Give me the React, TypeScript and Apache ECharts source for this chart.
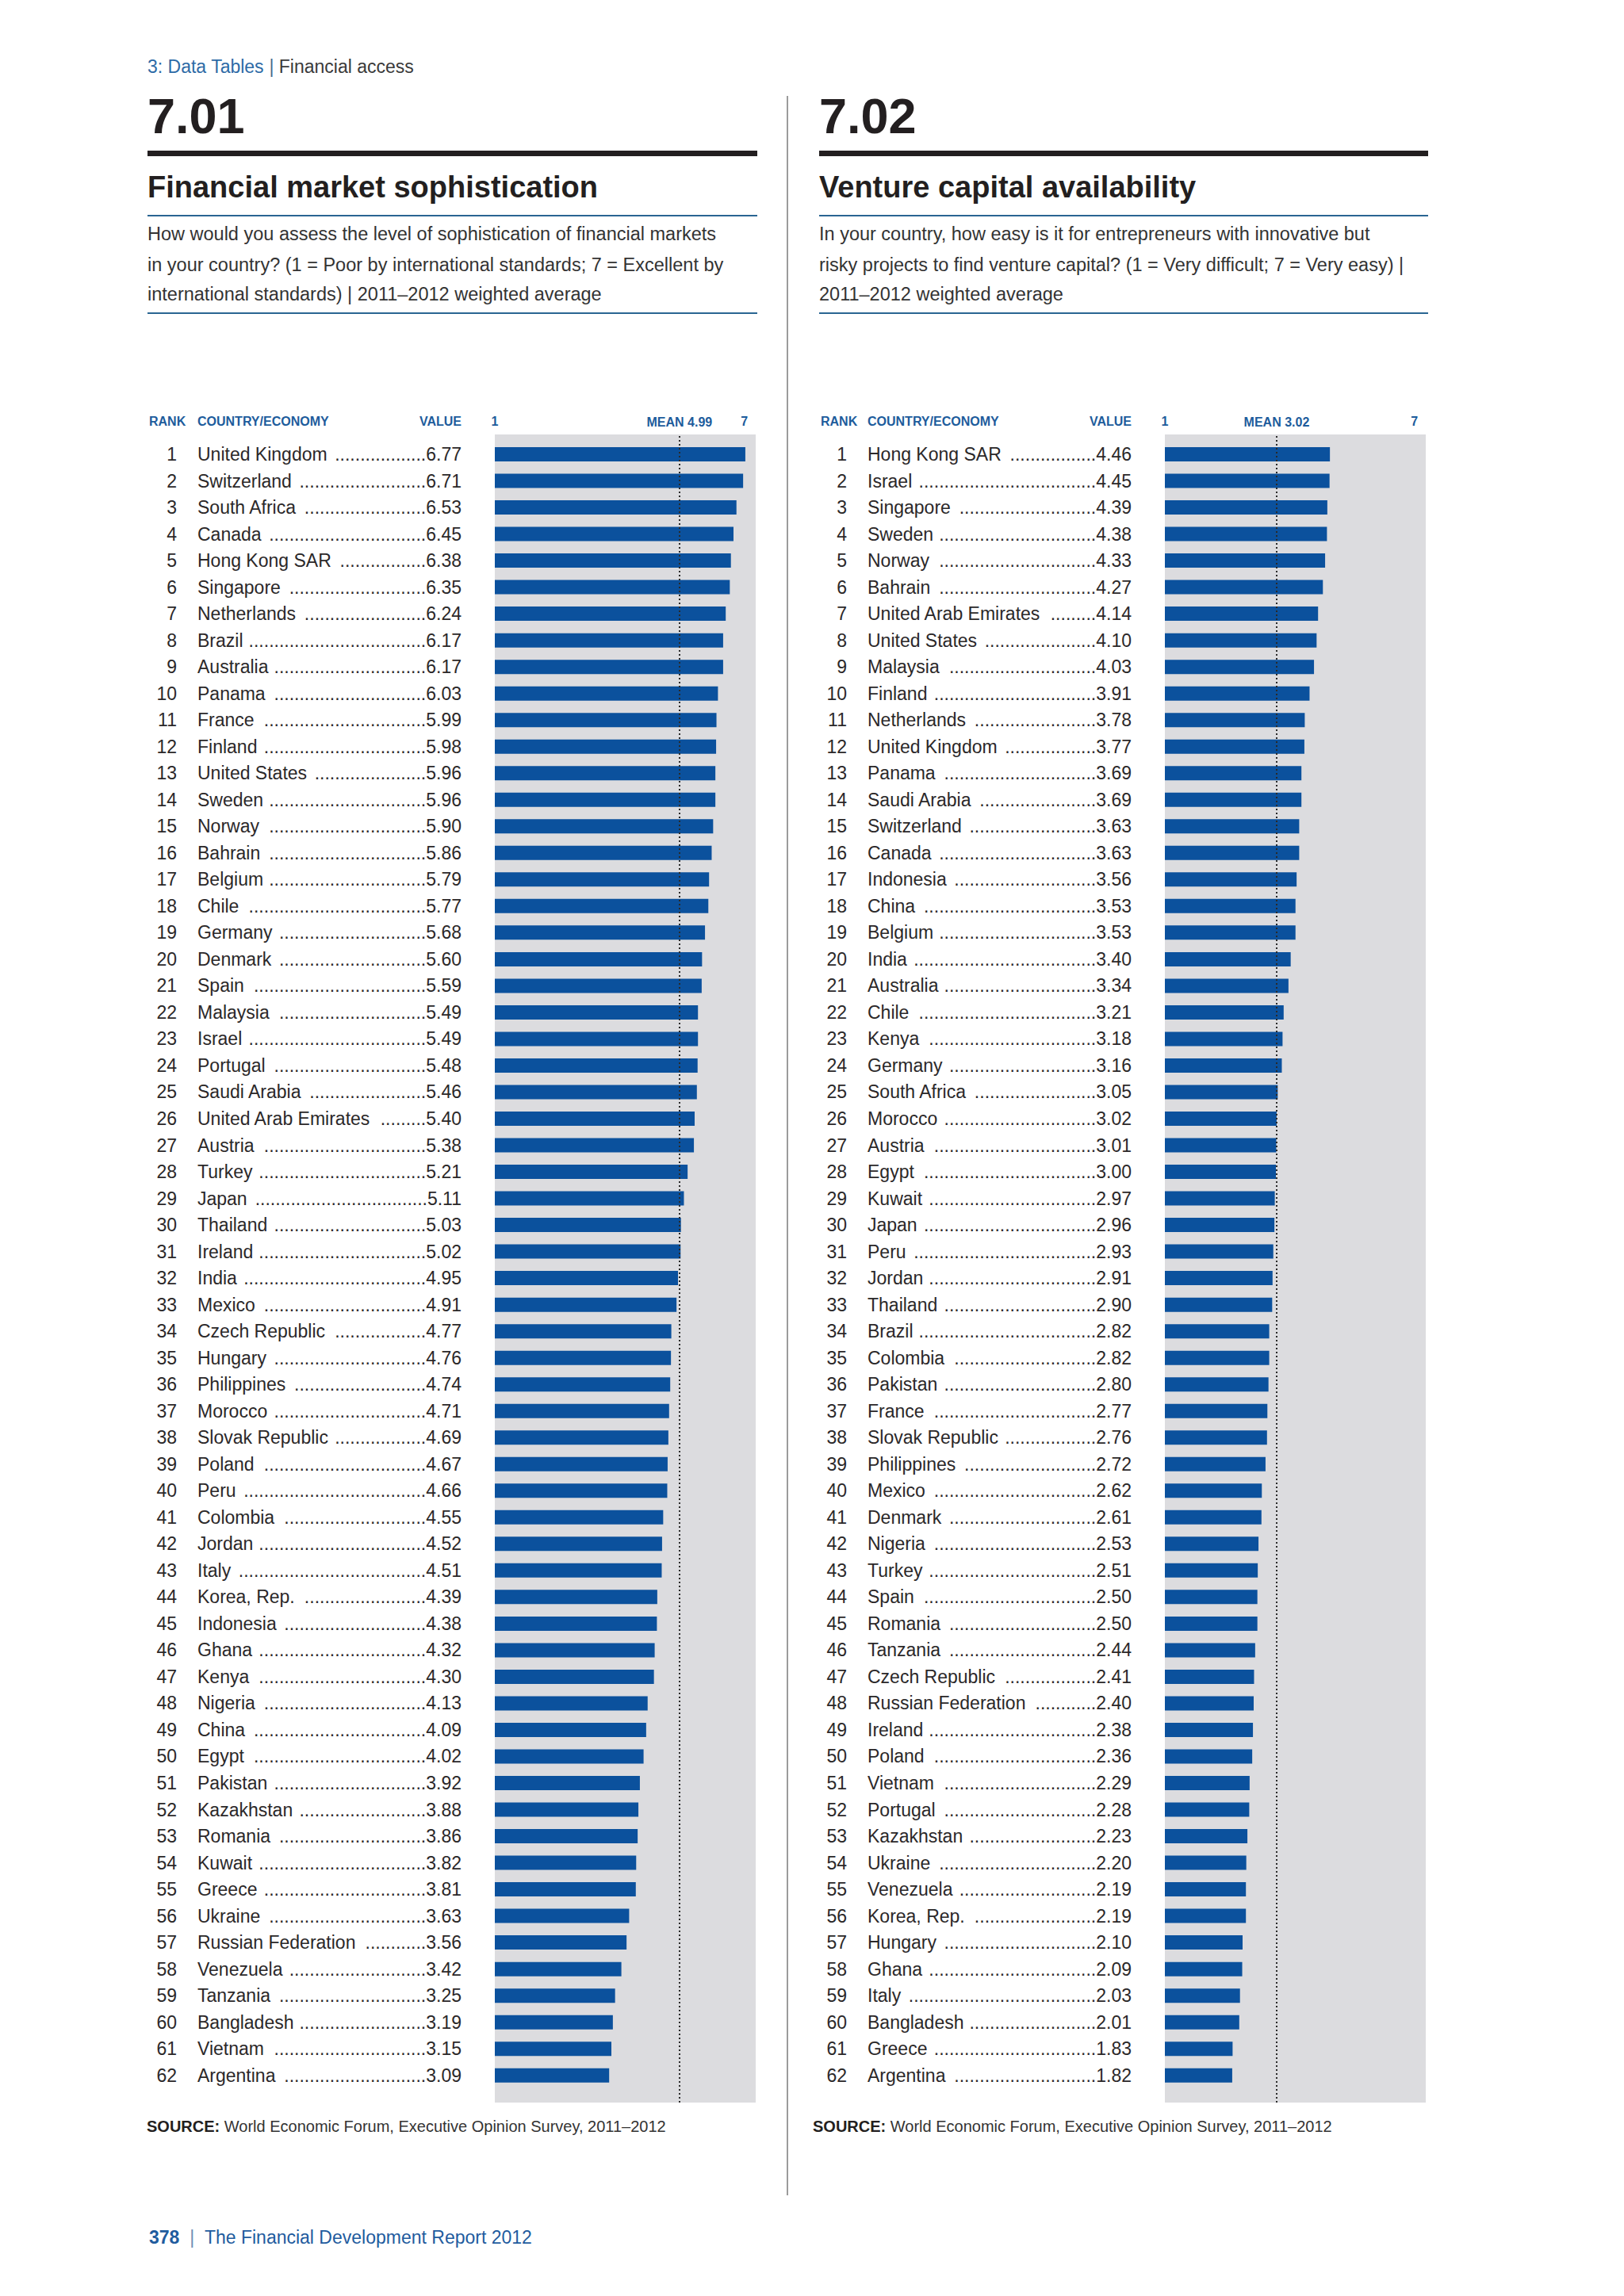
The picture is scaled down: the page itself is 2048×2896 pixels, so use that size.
import React, { useEffect, useRef } from "react";
import * as echarts from "echarts";

const FINANCIAL_COUNTRIES = [
  "United Kingdom", "Switzerland", "South Africa", "Canada", "Hong Kong SAR", "Singapore",
  "Netherlands", "Brazil", "Australia", "Panama", "France", "Finland", "United States",
  "Sweden", "Norway", "Bahrain", "Belgium", "Chile", "Germany", "Denmark", "Spain",
  "Malaysia", "Israel", "Portugal", "Saudi Arabia", "United Arab Emirates", "Austria",
  "Turkey", "Japan", "Thailand", "Ireland", "India", "Mexico", "Czech Republic", "Hungary",
  "Philippines", "Morocco", "Slovak Republic", "Poland", "Peru", "Colombia", "Jordan",
  "Italy", "Korea, Rep.", "Indonesia", "Ghana", "Kenya", "Nigeria", "China", "Egypt",
  "Pakistan", "Kazakhstan", "Romania", "Kuwait", "Greece", "Ukraine", "Russian Federation",
  "Venezuela", "Tanzania", "Bangladesh", "Vietnam", "Argentina",
];
const FINANCIAL_VALUES = [
  6.77, 6.71, 6.53, 6.45, 6.38, 6.35, 6.24, 6.17, 6.17, 6.03, 5.99, 5.98, 5.96, 5.96, 5.9,
  5.86, 5.79, 5.77, 5.68, 5.6, 5.59, 5.49, 5.49, 5.48, 5.46, 5.4, 5.38, 5.21, 5.11, 5.03,
  5.02, 4.95, 4.91, 4.77, 4.76, 4.74, 4.71, 4.69, 4.67, 4.66, 4.55, 4.52, 4.51, 4.39, 4.38,
  4.32, 4.3, 4.13, 4.09, 4.02, 3.92, 3.88, 3.86, 3.82, 3.81, 3.63, 3.56, 3.42, 3.25, 3.19,
  3.15, 3.09,
];
const VENTURE_COUNTRIES = [
  "Hong Kong SAR", "Israel", "Singapore", "Sweden", "Norway", "Bahrain", "United Arab Emirates",
  "United States", "Malaysia", "Finland", "Netherlands", "United Kingdom", "Panama",
  "Saudi Arabia", "Switzerland", "Canada", "Indonesia", "China", "Belgium", "India",
  "Australia", "Chile", "Kenya", "Germany", "South Africa", "Morocco", "Austria", "Egypt",
  "Kuwait", "Japan", "Peru", "Jordan", "Thailand", "Brazil", "Colombia", "Pakistan", "France",
  "Slovak Republic", "Philippines", "Mexico", "Denmark", "Nigeria", "Turkey", "Spain",
  "Romania", "Tanzania", "Czech Republic", "Russian Federation", "Ireland", "Poland",
  "Vietnam", "Portugal", "Kazakhstan", "Ukraine", "Venezuela", "Korea, Rep.", "Hungary",
  "Ghana", "Italy", "Bangladesh", "Greece", "Argentina",
];
const VENTURE_VALUES = [
  4.46, 4.45, 4.39, 4.38, 4.33, 4.27, 4.14, 4.1, 4.03, 3.91, 3.78, 3.77, 3.69, 3.69, 3.63,
  3.63, 3.56, 3.53, 3.53, 3.4, 3.34, 3.21, 3.18, 3.16, 3.05, 3.02, 3.01, 3.0, 2.97, 2.96,
  2.93, 2.91, 2.9, 2.82, 2.82, 2.8, 2.77, 2.76, 2.72, 2.62, 2.61, 2.53, 2.51, 2.5, 2.5, 2.44,
  2.41, 2.4, 2.38, 2.36, 2.29, 2.28, 2.23, 2.2, 2.19, 2.19, 2.1, 2.09, 2.03, 2.01, 1.83, 1.82,
];
const MEANS = [4.99, 3.02];
const SCALE_TICK_VALUES = [0, 7];
const SCALE_TICK_LABELS = ["1", "7"];
const TABLE_NUMBERS = ["7.01", "7.02"];
const TABLE_TITLES = ["Financial market sophistication", "Venture capital availability"];
const DESCRIPTIONS = [
  [
    "How would you assess the level of sophistication of financial markets",
    "in your country? (1 = Poor by international standards; 7 = Excellent by",
    "international standards) | 2011–2012 weighted average",
  ],
  [
    "In your country, how easy is it for entrepreneurs with innovative but",
    "risky projects to find venture capital? (1 = Very difficult; 7 = Very easy) |",
    "2011–2012 weighted average",
  ],
];
const COLUMN_HEADERS = ["RANK", "COUNTRY/ECONOMY", "VALUE"];
const SOURCE_TEXT = "World Economic Forum, Executive Opinion Survey, 2011–2012";
const BREADCRUMB = ["3: Data Tables", "Financial access"];
const FOOTER = ["378", "The Financial Development Report 2012"];

const FONT = '"Liberation Sans", Arial, Helvetica, sans-serif';
const DARK = "#231f20";
const ROW_TEXT = "#2b2829";
const BLUE_TEXT = "#1d5c9c";
const BAR = "#0b519d";
const GRAY_BG = "#dcdcdf";
const RULE_BLUE = "#2a6592";

export default function App() {
  const ref = useRef<HTMLDivElement>(null);

  useEffect(() => {
    document.body.style.margin = "0";
    const chart = echarts.init(ref.current!, null, { renderer: "svg" });

    const canvas = document.createElement("canvas");
    const ctx = canvas.getContext("2d")!;
    const tw = (t: string, size: number, weight = "normal") => {
      ctx.font = `${weight} ${size}px "Liberation Sans"`;
      return ctx.measureText(t).width;
    };

    const ROW_FS = 23;
    const GRID_W = 329;
    const X_MAX = 7.05;
    const ROW_H = 33.52;
    const N = 62;
    const ROW_TOP = 573 - ROW_H / 2;
    const BG_TOP = 548;
    const BG_BOTTOM = 2652;

    const panels = [
      { x0: 186, ruleEnd: 955, gridLeft: 624, rankRight: 223, nameLeft: 249, valueRight: 582, sourceX: 185, countries: FINANCIAL_COUNTRIES, values: FINANCIAL_VALUES },
      { x0: 1033, ruleEnd: 1801, gridLeft: 1469, rankRight: 1068, nameLeft: 1094, valueRight: 1427, sourceX: 1025, countries: VENTURE_COUNTRIES, values: VENTURE_VALUES },
    ];

    const grids: any[] = [];
    const xAxes: any[] = [];
    const yAxes: any[] = [];
    const series: any[] = [];
    const graphics: any[] = [];

    const txt = (x: number, y: number, text: string, size: number, o: any = {}) => ({
      type: "text",
      x,
      y,
      silent: true,
      style: {
        text,
        fontSize: size,
        fontFamily: FONT,
        fontWeight: o.weight || "normal",
        fill: o.color || DARK,
        align: o.align || "left",
        verticalAlign: "middle",
        textAlign: o.align || "left",
        textVerticalAlign: "middle",
        rich: o.rich,
      },
    });

    panels.forEach((p) => {
      grids.push({ left: p.gridLeft, top: ROW_TOP, width: GRID_W, height: ROW_H * N, show: false, containLabel: false });
    });
    panels.forEach((p) => {
      grids.push({ left: p.gridLeft, top: BG_TOP, width: GRID_W, height: BG_BOTTOM - BG_TOP, show: true, backgroundColor: GRAY_BG, borderWidth: 0, containLabel: false });
    });

    panels.forEach((p, pi) => {
      xAxes.push({ type: "value", gridIndex: pi, min: 0, max: X_MAX, show: false });
    });
    panels.forEach((p, pi) => {
      xAxes.push({
        type: "value",
        gridIndex: 2 + pi,
        min: 0,
        max: X_MAX,
        interval: 7,
        position: "top",
        axisLine: { show: false },
        axisTick: { show: false },
        splitLine: { show: false },
        axisLabel: {
          show: true,
          margin: 9,
          formatter: (v: number) => {
            const k = SCALE_TICK_VALUES.indexOf(v);
            if (k < 0) return "";
            return k === 0 ? `{a|${SCALE_TICK_LABELS[k]}}` : `{b|${SCALE_TICK_LABELS[k]}}`;
          },
          rich: {
            a: { color: BLUE_TEXT, fontSize: 16, fontWeight: "bold", fontFamily: FONT },
            b: { color: BLUE_TEXT, fontSize: 16, fontWeight: "bold", fontFamily: FONT, padding: [0, 24, 0, 0] },
          },
        },
      });
    });

    panels.forEach((p, pi) => {
      const ranks = p.countries.map((_, i) => String(i + 1));
      const dotW = tw(".", ROW_FS);
      const valueLabels = p.values.map((v, i) => {
        const val = v.toFixed(2);
        const nameEnd = p.nameLeft + tw(p.countries[i] + " ", ROW_FS);
        const avail = p.valueRight - tw(val, ROW_FS) - nameEnd;
        const n = Math.max(0, Math.floor(avail / dotW));
        return ".".repeat(n) + val;
      });
      const labelAxis = (data: string[], offset: number, align: string) => ({
        type: "category",
        gridIndex: pi,
        inverse: true,
        data,
        position: "left",
        offset,
        axisLine: { show: false },
        axisTick: { show: false },
        splitLine: { show: false },
        axisLabel: { show: true, interval: 0, margin: 0, align, color: ROW_TEXT, fontSize: ROW_FS, fontFamily: FONT },
      });
      yAxes.push(labelAxis(ranks, p.gridLeft - p.rankRight, "right"));
      yAxes.push(labelAxis(p.countries, p.gridLeft - p.nameLeft, "left"));
      yAxes.push(labelAxis(valueLabels, p.gridLeft - p.valueRight, "right"));
    });
    panels.forEach((p, pi) => {
      yAxes.push({ type: "value", gridIndex: 2 + pi, min: 0, max: 1, show: false });
    });

    panels.forEach((p, pi) => {
      series.push({
        type: "bar",
        xAxisIndex: pi,
        yAxisIndex: pi * 3,
        data: p.values,
        barWidth: 18,
        silent: true,
        itemStyle: { color: BAR },
        z: 2,
      });
      series.push({
        type: "scatter",
        xAxisIndex: 2 + pi,
        yAxisIndex: 6 + pi,
        data: [[MEANS[pi], 0.5]],
        symbolSize: 0,
        silent: true,
        z: 5,
        markLine: {
          silent: true,
          symbol: ["none", "none"],
          z: 10,
          lineStyle: { type: [2, 3], color: "#2a2a2a", width: 2 },
          label: {
            show: true,
            position: "end",
            distance: 8,
            formatter: `MEAN ${MEANS[pi].toFixed(2)}`,
            color: BLUE_TEXT,
            fontSize: 16,
            fontWeight: "bold",
            fontFamily: FONT,
          },
          emphasis: { disabled: true },
          data: [{ xAxis: MEANS[pi] }],
        },
      });
    });

    graphics.push({
      type: "line",
      silent: true,
      shape: { x1: 993, y1: 121, x2: 993, y2: 2769 },
      style: { stroke: "#9b9b9b", lineWidth: 2 },
    });
    graphics.push(
      txt(186, 84, `{a|${BREADCRUMB[0]}}{s| | }{b|${BREADCRUMB[1]}}`, 23, {
        rich: {
          a: { fill: "#2d6aa6", fontSize: 23, fontFamily: FONT },
          s: { fill: "#4a6a90", fontSize: 23, fontFamily: FONT },
          b: { fill: "#3a3a3a", fontSize: 23, fontFamily: FONT },
        },
      })
    );

    panels.forEach((p, pi) => {
      const w = p.ruleEnd - p.x0;
      graphics.push(txt(p.x0, 146, TABLE_NUMBERS[pi], 63, { weight: "bold" }));
      graphics.push({ type: "rect", silent: true, shape: { x: p.x0, y: 190, width: w, height: 7 }, style: { fill: DARK } });
      graphics.push(txt(p.x0, 236, TABLE_TITLES[pi], 38, { weight: "bold" }));
      graphics.push({ type: "rect", silent: true, shape: { x: p.x0, y: 271, width: w, height: 2 }, style: { fill: RULE_BLUE } });
      const descY = [295, 333.5, 371];
      DESCRIPTIONS[pi].forEach((line, li) => {
        graphics.push(txt(p.x0, descY[li], line, 23.5, { color: "#333333" }));
      });
      graphics.push({ type: "rect", silent: true, shape: { x: p.x0, y: 394, width: w, height: 2 }, style: { fill: RULE_BLUE } });
      graphics.push(txt(p.x0 + 2, 531, COLUMN_HEADERS[0], 16, { weight: "bold", color: BLUE_TEXT }));
      graphics.push(txt(p.nameLeft, 531, COLUMN_HEADERS[1], 16, { weight: "bold", color: BLUE_TEXT }));
      graphics.push(txt(p.valueRight, 531, COLUMN_HEADERS[2], 16, { weight: "bold", color: BLUE_TEXT, align: "right" }));
      graphics.push(
        txt(p.sourceX, 2682, `{b|SOURCE:} {n|${SOURCE_TEXT}}`, 20, {
          rich: {
            b: { fill: DARK, fontSize: 20, fontWeight: "bold", fontFamily: FONT },
            n: { fill: "#333333", fontSize: 20, fontFamily: FONT },
          },
        })
      );
    });

    graphics.push(
      txt(188, 2822, `{n|${FOOTER[0]}}{s|  |  }{t|${FOOTER[1]}}`, 23, {
        rich: {
          n: { fill: "#1f5c9e", fontSize: 23, fontWeight: "bold", fontFamily: FONT },
          s: { fill: "#6f8fb5", fontSize: 23, fontFamily: FONT },
          t: { fill: "#1f5c9e", fontSize: 23, fontFamily: FONT },
        },
      })
    );

    chart.setOption({
      animation: false,
      backgroundColor: "#ffffff",
      grid: grids,
      xAxis: xAxes,
      yAxis: yAxes,
      series,
      graphic: { elements: graphics },
    });

    return () => {
      chart.dispose();
    };
  }, []);

  return <div ref={ref} style={{ width: 2048, height: 2896 }} />;
}
